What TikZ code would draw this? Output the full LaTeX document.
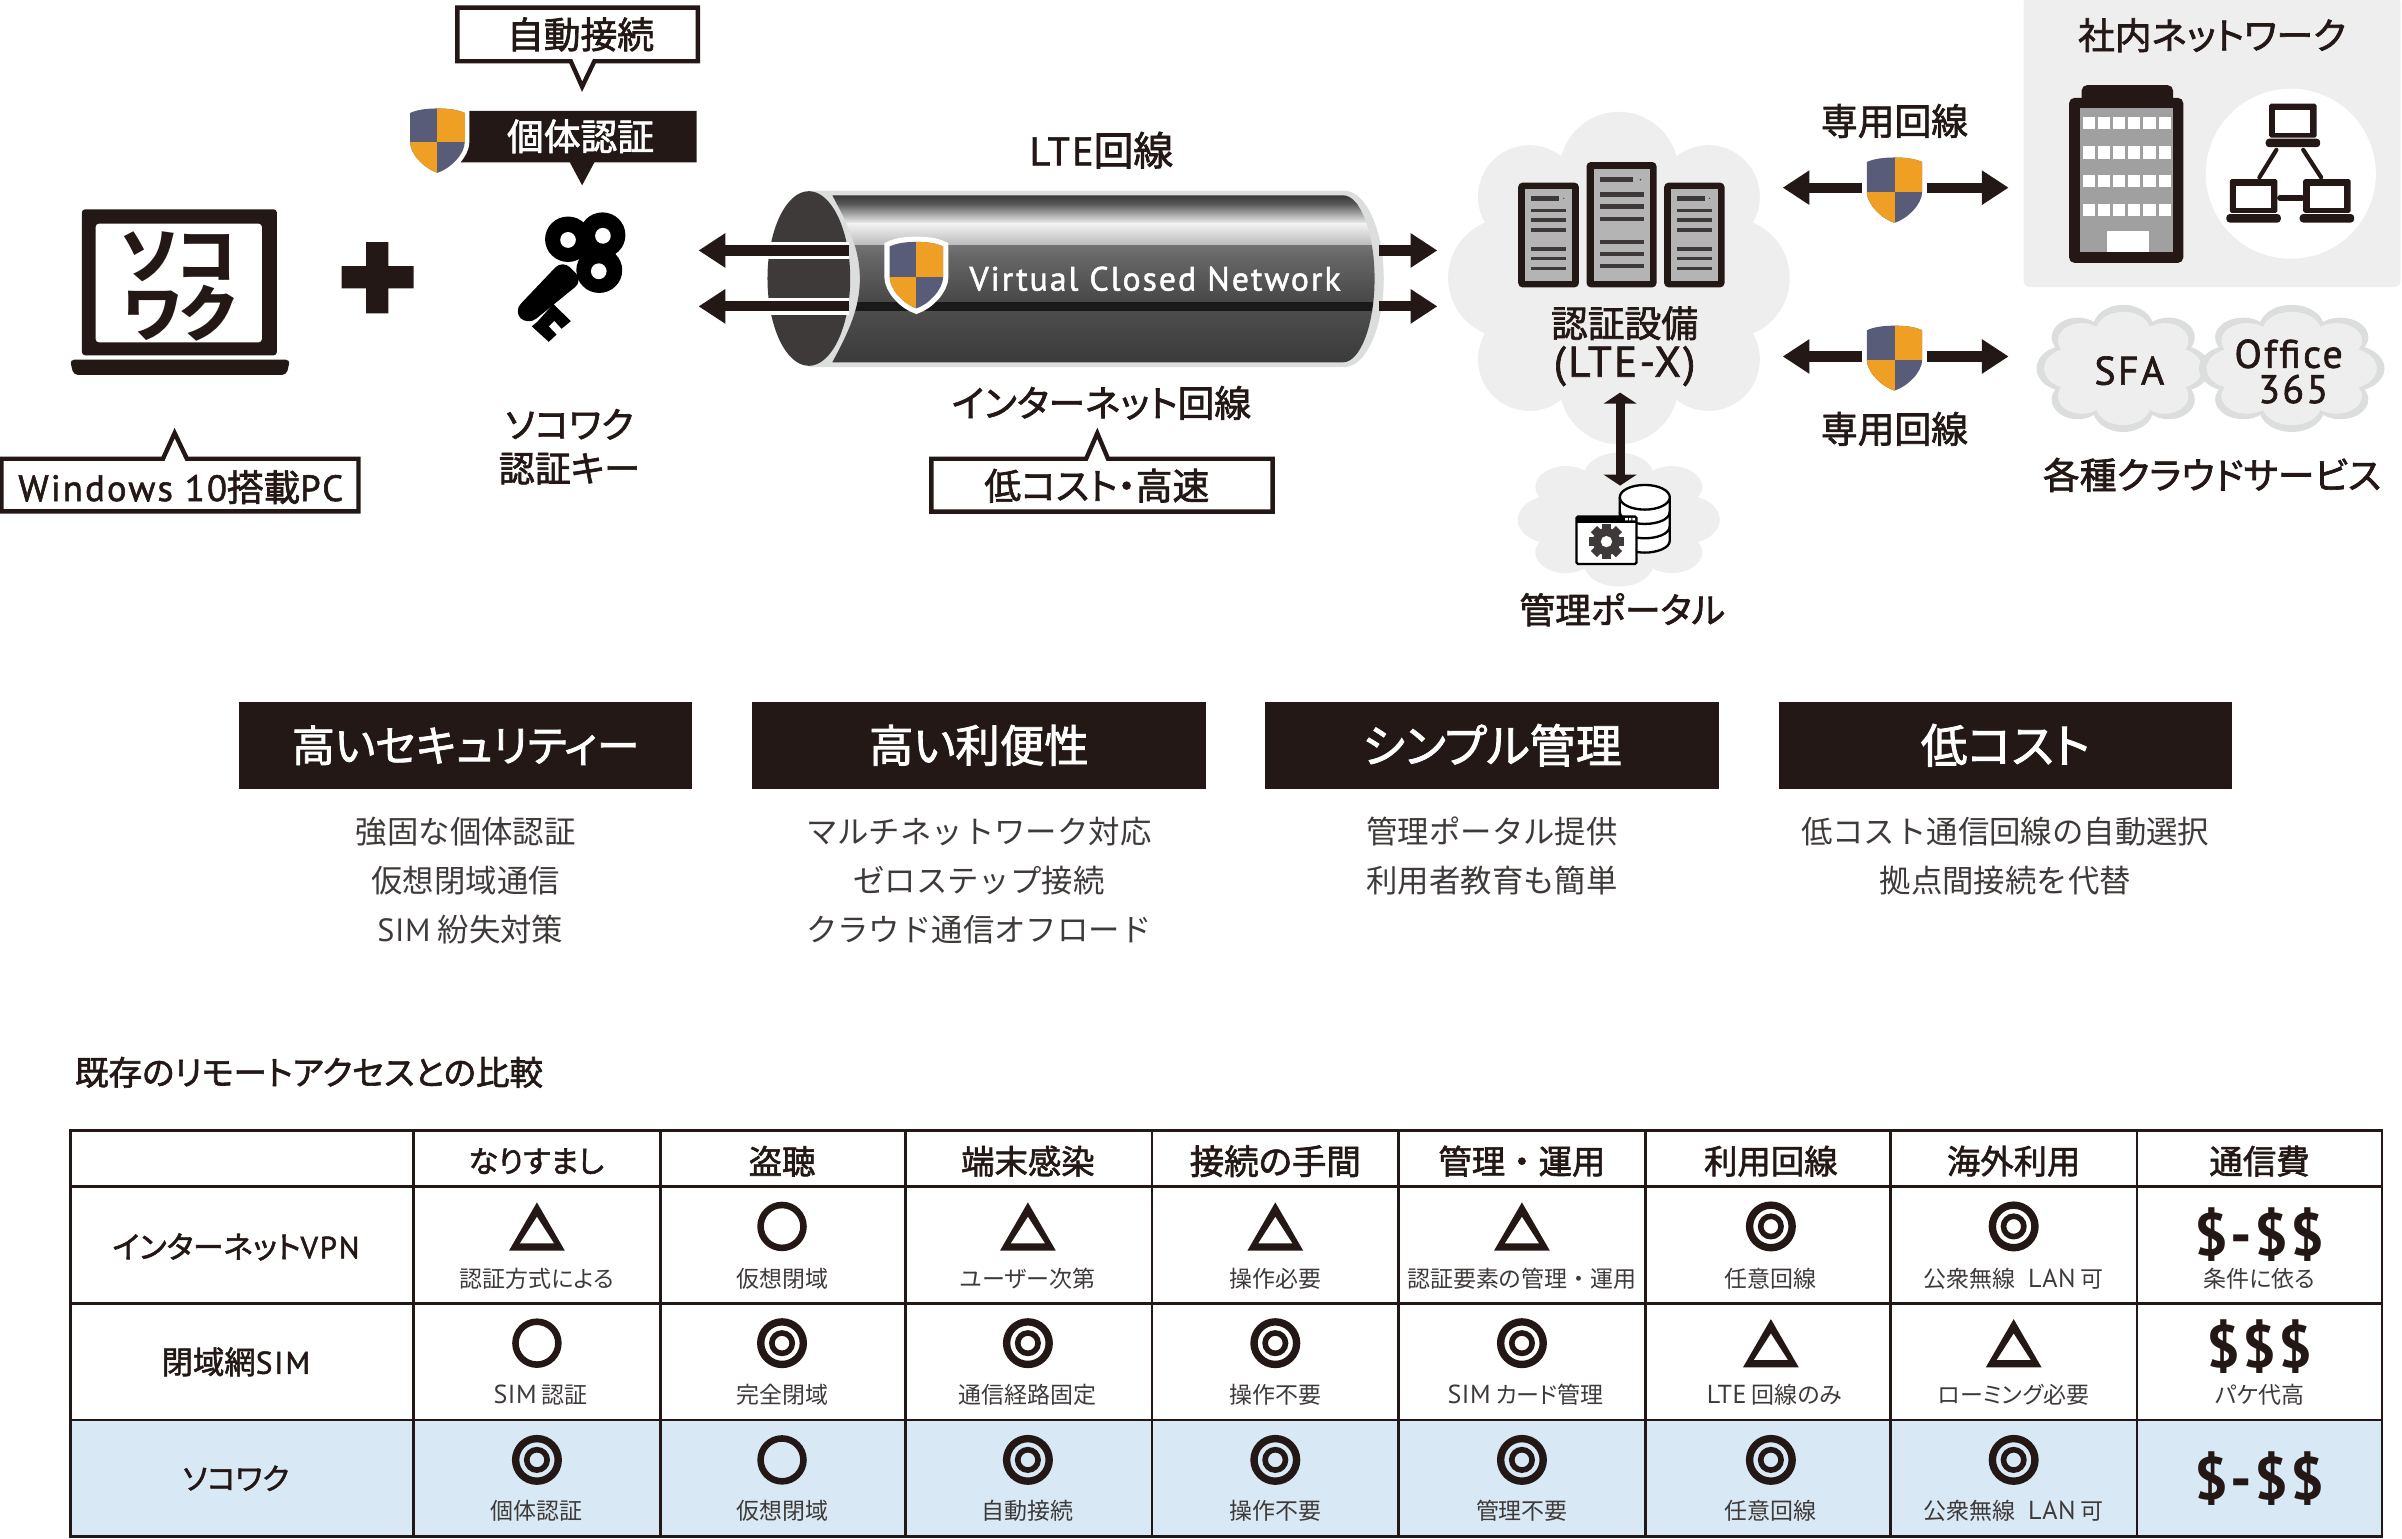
\documentclass[tikz,border=0pt]{standalone}
\usepackage{fontspec}
\usepackage{xcolor}
\usetikzlibrary{arrows.meta}
\setmainfont{Noto Sans CJK JP}
\newfontfamily\jpm{Noto Sans CJK JP}[RawFeature=+palt,FakeBold=1.8]
\newfontfamily\jpf{Noto Sans CJK JP}[FakeBold=1.8]
\newfontfamily\jpl{Noto Sans CJK JP}[RawFeature=+palt]
\newfontfamily\din{PT Sans}[LetterSpace=6,FakeBold=1.6]
\newfontfamily\dinl{PT Sans}[LetterSpace=2]
\newfontfamily\dinb{PT Sans}[LetterSpace=4]
\definecolor{ink}{HTML}{231815}
\definecolor{txt}{HTML}{3E3A39}
\definecolor{navy}{HTML}{585C78}
\definecolor{orange}{HTML}{EFA024}
\definecolor{pale}{HTML}{EEEEEE}
\definecolor{cborder}{HTML}{DCDDDD}
\definecolor{srv}{HTML}{B4B4B5}
\definecolor{bldg}{HTML}{A0A0A0}
\definecolor{rowblue}{HTML}{D8E9F5}
\newcommand\fs[1]{\fontsize{\fpeval{#1*0.4358}pt}{\fpeval{#1*0.4358*1.15}pt}\selectfont}
\def\shieldpath{(0,0) .. controls (-.4,0) and (-.75,.02) .. (-1,.07) -- (-1,.52) .. controls (-1,.72) and (-.45,.94) .. (0,1) .. controls (.45,.94) and (1,.72) .. (1,.52) -- (1,.07) .. controls (.75,.02) and (.4,0) .. (0,0) -- cycle}
\newcommand\shieldicon[5]{%
\begin{scope}[shift={({(#1+#2)/2},#3)},xscale=\fpeval{(#2-#1)/2},yscale=\fpeval{#4-#3}]
\draw[white,line width=#5] \shieldpath;
\begin{scope}
\clip \shieldpath;
\fill[navy] (-1.1,-.1) rectangle (1.1,1.1);
\fill[orange] (0,-.1) rectangle (1.1,.525);
\fill[orange] (-1.1,.525) rectangle (0,1.1);
\end{scope}
\end{scope}}
\newcommand\cloudfill[5]{%
\begin{scope}[shift={(#1,#2)},xscale=\fpeval{#3/515},yscale=\fpeval{#4/499}]
\fill[#5] (0,0) circle[radius=380] (0,-319) circle[radius=180] (-270,-244) circle[radius=155] (270,-244) circle[radius=155]
 (-335,0) circle[radius=180] (335,0) circle[radius=180] (-270,244) circle[radius=155] (270,244) circle[radius=155] (0,319) circle[radius=180];
\end{scope}}
\newcommand\smallpc[2]{%
\fill[ink,rounded corners=.5pt] (#1,#2) rectangle ++(31,22.1);
\fill[white] ({#1+4.1},{#2+4.2}) rectangle ++(22.8,14.7);
\fill[ink,rounded corners=1pt] ({#1-2.3},{#2+22.8}) rectangle ++(35.6,5.6);}
\newcommand\srvbox[9]{%
\fill[ink,rounded corners=1.2pt] (#1,#3) rectangle (#2,#4);
\fill[srv] (\fpeval{#1+21},\fpeval{#3+20}) rectangle (\fpeval{#2-21},\fpeval{#4-19});
\fill[txt] (\fpeval{#1+39},\fpeval{#3+#5-8}) rectangle (\fpeval{#1+39+#6},\fpeval{#3+#5+8});
\fill[txt] (\fpeval{#1+39+#6+(#2-#1-78-#6)/1.4},\fpeval{#3+#5}) circle[radius=#7];
\foreach \ly in {#8} \fill[txt] (\fpeval{#1+39},\fpeval{\ly-#9}) rectangle (\fpeval{#2-39},\fpeval{\ly+#9});}
\newcommand\mkO[2]{\draw[ink,line width=1.87pt] (#1,#2) circle[radius=14];}
\newcommand\mkW[2]{\draw[ink,line width=2.1pt] (#1,#2) circle[radius=13.9];\draw[ink,line width=1.6pt] (#1,#2) circle[radius=6.65];}
\newcommand\mkT[2]{\fill[ink,even odd rule] (\fpeval{#1-18.2},\fpeval{#2+15.8}) -- (\fpeval{#1+18.2},\fpeval{#2+15.8}) -- (#1,\fpeval{#2-15.7}) -- cycle
 (\fpeval{#1-11.2},\fpeval{#2+11}) -- (\fpeval{#1+11.2},\fpeval{#2+11}) -- (#1,\fpeval{#2-6.4}) -- cycle;}
\tikzset{
 lbl/.style={inner sep=0pt,outer sep=0pt,text=ink,align=center},
 fatarrow/.style={line width=2.9pt,draw=ink,-{Triangle[length=7.6pt,width=9.3pt,fill=ink]}},
 bubble/.style={draw=ink,line width=1.25pt,fill=white,miter limit=10},
 hdr/.style={fill=ink,text=white,inner sep=0pt,minimum width=129pt,minimum height=24.9pt},
 desc/.style={inner sep=0pt,text=txt,align=center,font=\fs{20.5}},
 hcell/.style={inner sep=0pt,text=ink,font=\jpf\fs{21.8}},
 capt/.style={inner sep=0pt,text=txt,font=\jpl\fs{15}},
 dollar/.style={inner sep=0pt,text=ink},
 gline/.style={draw=ink,line width=.72pt},
}
\begin{document}
\begin{tikzpicture}[x=0.015319cm,y=-0.015319cm]
\useasboundingbox (0,0) rectangle (1568,1004);
% ---- PC
\fill[ink,rounded corners=1pt] (53.4,136.6) rectangle (180.8,232);
\fill[white,rounded corners=1pt] (62.4,146) rectangle (171,223.5);
\fill[ink,rounded corners=1.2pt] (45.6,234.8) -- (189.4,234.8) -- (187,244.7) -- (48,244.7) -- cycle;
\node[lbl,font=\jpl\bfseries\fontsize{17.4pt}{14.8pt}\selectfont] (logoa) at (117,187) {ソコ\\ワク};
\fill[ink] (239,158) rectangle (253.6,204.5) (223,173.7) rectangle (270,188.3);
% ---- key
\begin{scope}[xscale=0.29976,yscale=0.22472]
\fill[black] (1237,695) ellipse[x radius=50,y radius=66] (1312,683) ellipse[x radius=50,y radius=66] (1305,785) ellipse[x radius=50,y radius=66];
\fill[black,rounded corners=3pt] (1225,755) -- (1270,815) -- (1150,945) -- (1118,905) -- cycle;
\fill[black] (1205,883) -- (1243,933) -- (1223,955) -- (1207,932) -- (1195,948) -- (1212,972) -- (1195,993) -- (1158,948) -- (1170,935) -- cycle;
\fill[white] (1237,697) ellipse[x radius=17,y radius=23] (1313,685) ellipse[x radius=17,y radius=23] (1304,788) ellipse[x radius=17,y radius=23];
\end{scope}
% ---- bubbles
\draw[bubble] (298.6,5) -- (455.6,5) -- (455.6,40) -- (388,40) -- (380,56.6) -- (372.6,40) -- (298.6,40) -- cycle;
\node[lbl,font=\jpm\fs{24}] (autoc) at (379,22.5) {自動接続};
\fill[ink] (300.7,72.4) -- (454.7,72.4) -- (454.7,106) -- (388,106) -- (380,121) -- (372,106) -- (300.7,106) -- cycle;
\node[lbl,font=\jpm\fs{24},text=white] (indiv) at (379,89) {個体認証};
\shieldicon{267.7}{303.4}{70.8}{112.8}{2.6pt}
\node[lbl,font=\jpm\fs{23.5}] (keya) at (371.7,277) {ソコワク};
\node[lbl,font=\jpm\fs{23.5}] (keyb) at (371.7,306) {認証キー};
\draw[bubble] (1,299.5) -- (106.4,299.5) -- (114,282.7) -- (122,299.5) -- (234,299.5) -- (234,333.8) -- (1,333.8) -- cycle;
\node[lbl,font=\fs{23.9}] (winpc) at (118,318) {{\din Windows 10}{\jpm 搭載}{\din PC}};
% ---- tube
\fill[cborder] (528,124.4) -- (877.3,124.4) .. controls (891.7,124.4) and (903.3,150.2) .. (903.3,182) .. controls (903.3,213.8) and (891.7,239.7) .. (877.3,239.7) -- (528,239.7) -- cycle;
\fill[txt] (528,181.8) ellipse[x radius=27,y radius=57];
\begin{scope}
\clip (543.3,127.5) -- (876.7,127.5) .. controls (888,127.5) and (897.3,152) .. (897.3,182) .. controls (897.3,212) and (888,236.5) .. (876.7,236.5) -- (543.3,236.5) .. controls (555,215) and (561.3,200) .. (561.3,182) .. controls (561.3,164) and (555,149) .. (543.3,127.5) -- cycle;
\shade[top color=black!80,bottom color=black!65] (530,127) rectangle (910,133.2);
\shade[top color=black!65,bottom color=black!5] (530,133) rectangle (910,146.2);
\shade[top color=black!5,bottom color=black!27] (530,146) rectangle (910,160);
\shade[top color=black!55,bottom color=black!60] (530,160) rectangle (910,167.7);
\shade[top color=black!60,bottom color=black!72] (530,167.5) rectangle (910,197);
\fill[black!90] (530,197) rectangle (910,203.5);
\shade[top color=black!70,bottom color=black!77] (530,203.5) rectangle (910,237);
\end{scope}
\coordinate (lse) at (495,163.5); \coordinate (lsf) at (495,200);
\coordinate (lsa) at (554,163.5); \coordinate (lta) at (456,163.5);
\coordinate (lsb) at (554,200); \coordinate (ltb) at (456,200);
\coordinate (rsa) at (900,163.5); \coordinate (rta) at (938.3,163.5);
\coordinate (rsb) at (900,200); \coordinate (rtb) at (938.3,200);
\draw[white,line width=4.8pt] (lse) -- (lsa);
\draw[white,line width=4.8pt] (lsf) -- (lsb);
\draw[fatarrow] (lsa) -- (lta);
\draw[fatarrow] (lsb) -- (ltb);
\draw[fatarrow] (rsa) -- (rta);
\draw[fatarrow] (rsb) -- (rtb);
\shieldicon{580.7}{615.7}{157.9}{201.3}{3pt}
\node[lbl,text=white,font=\din\fs{22}] (vcn) at (754,182) {Virtual Closed Network};
\node[lbl,font=\fs{26}] (lte) at (719,98) {{\din LTE}{\jpm 回線}};
\node[lbl,font=\jpm\fs{24}] (inet) at (719,263) {インターネット回線};
\draw[bubble] (608,299.5) -- (709,299.5) -- (716.3,282.8) -- (723.3,299.5) -- (830.7,299.5) -- (830.7,334) -- (608,334) -- cycle;
\node[lbl,font=\jpm\fs{24}] (lowc) at (716,317) {低コスト・高速};
% ---- auth cloud
\cloudfill{1056.8}{181.5}{111.5}{108.5}{pale}
\begin{scope}[shift={(933.4,65.3)},scale=0.21758]
\srvbox{265}{447}{248}{562}{47}{82}{2}{331,360,389,446,475,505}{5.5}
\srvbox{470}{680}{186}{562}{53}{100}{2.6}{283,319,356,425,462,498}{6.5}
\srvbox{703}{884}{248}{562}{47}{82}{2}{331,360,389,446,475,505}{5.5}
\end{scope}
\node[lbl,font=\jpm\fs{24}] (auth) at (1060.5,211) {認証設備};
\node[lbl,font=\din\fs{28}] (ltex) at (1060.5,239) {(LTE-X)};
% ---- portal
\cloudfill{1056.7}{339.2}{66}{43.7}{pale}
\coordinate (pa) at (1057.6,256.3); \coordinate (pb) at (1057.6,317);
\draw[line width=2.5pt,draw=ink,{Triangle[length=3.1pt,width=9.2pt,fill=ink]}-{Triangle[length=3.1pt,width=9.2pt,fill=ink]}] (pa) -- (pb);
\begin{scope}[shift={(966,241.5)},scale=0.21758]
\filldraw[fill=white,draw=black,line width=.66pt] (420,382) -- (420,512) .. controls (420,535) and (460,548) .. (495,548) .. controls (530,548) and (570,535) .. (570,512) -- (570,382);
\foreach \dy in {0,43} \draw[black,line width=.66pt] (420,\fpeval{425+\dy}) .. controls (420,\fpeval{450+\dy}) and (460,\fpeval{462+\dy}) .. (495,\fpeval{462+\dy}) .. controls (530,\fpeval{462+\dy}) and (570,\fpeval{450+\dy}) .. (570,\fpeval{425+\dy});
\filldraw[fill=white,draw=black,line width=.66pt] (495,382) ellipse[x radius=75,y radius=37];
\filldraw[fill=white,draw=black,line width=.66pt,rounded corners=.4pt] (290,440) rectangle (470,582);
\fill[black] (290,440) rectangle (470,458);
\fill[white] (436,444) rectangle (444,451) (447,444) rectangle (455,451) (458,444) rectangle (466,451);
\fill[txt] (380,515) circle[radius=41];
\foreach \a in {0,45,...,315} \fill[txt,rotate around={\a:(380,515)}] (367,462) rectangle (393,482);
\fill[white] (380,515) circle[radius=17];
\end{scope}
\node[lbl,font=\jpm\fs{23.3}] (portal) at (1059,398) {管理ポータル};
% ---- right side
\fill[pale,rounded corners=1.5pt] (1321,-2) rectangle (1567,187.4);
\node[lbl,font=\jpm\fs{24}] (corp) at (1444,23) {社内ネットワーク};
\fill[ink,rounded corners=1.5pt] (1358.9,55.6) rectangle (1418.5,70);
\fill[ink,rounded corners=1.5pt] (1350.7,63.9) rectangle (1425.2,171.6);
\fill[bldg] (1357.7,70.8) rectangle (1418.8,164.7);
\foreach \wy in {76.4,95.5,114.3,133.3} \foreach \wc in {0,...,5} \fill[white] (\fpeval{1359.5+\wc*9.93},\wy) rectangle ++(7.9,8);
\fill[white] (1375.2,150.9) rectangle (1402.7,164.7);
\fill[white] (1495.4,113.4) circle[radius=55.5];
\smallpc{1481.3}{67.7}
\smallpc{1455.6}{116.9}
\smallpc{1503.5}{116.9}
\coordinate (na) at (1486,97.8); \coordinate (nb) at (1474.9,115.8);
\coordinate (nc) at (1503.5,97.8); \coordinate (nd) at (1515.2,115.8);
\coordinate (ne) at (1488.3,129.2); \coordinate (nf) at (1502.6,129.2);
\draw[ink,line width=1.2pt,line cap=round] (na) -- (nb);
\draw[ink,line width=1.2pt,line cap=round] (nc) -- (nd);
\draw[ink,line width=1.6pt,line cap=round] (ne) -- (nf);
\coordinate (ua) at (1215.4,122.5); \coordinate (ub) at (1163.7,122.5);
\coordinate (uc) at (1257.8,122.5); \coordinate (ud) at (1311.2,122.5);
\coordinate (va) at (1215.4,232.7); \coordinate (vb) at (1163.7,232.7);
\coordinate (vc) at (1257.8,232.7); \coordinate (vd) at (1311.2,232.7);
\draw[fatarrow] (ua) -- (ub);
\draw[fatarrow] (uc) -- (ud);
\draw[fatarrow] (va) -- (vb);
\draw[fatarrow] (vc) -- (vd);
\shieldicon{1218.6}{1254.8}{102.8}{145.5}{0pt}
\shieldicon{1218.6}{1254.8}{212.6}{255}{0pt}
\node[lbl,font=\jpm\fs{24}] (lineu) at (1236.7,79) {専用回線};
\node[lbl,font=\jpm\fs{24}] (linel) at (1236.7,280) {専用回線};
\cloudfill{1386}{240.5}{56.6}{41.5}{cborder}
\cloudfill{1386}{240.5}{51.6}{37}{pale}
\cloudfill{1496}{240.5}{60.6}{41.5}{cborder}
\cloudfill{1496}{240.5}{55.6}{37}{pale}
\node[lbl,font=\din\fs{26}] (sfa) at (1390,242) {SFA};
\node[lbl,font=\din\fs{26}] (offa) at (1494,231) {Office};
\node[lbl,font=\din\fs{26}] (offb) at (1497,254) {365};
\node[lbl,font=\jpm\fs{24}] (cloudsvc) at (1444,310) {各種クラウドサービス};
% ---- features
\node[hdr,font=\jpm\fs{28}] (fa) at (304,486.5) {高いセキュリティー};
\node[hdr,font=\jpm\fs{29}] (fb) at (639,486.5) {高い利便性};
\node[hdr,font=\jpm\fs{30}] (fc) at (974,486.5) {シンプル管理};
\node[hdr,font=\jpm\fs{30.5}] (fd) at (1309,486.5) {低コスト};
\node[desc] (da1) at (304,543) {強固な個体認証};
\node[desc] (da2) at (304,575) {仮想閉域通信};
\node[desc] (da3) at (304,607) {{\dinl\fs{21} SIM} 紛失対策};
\node[desc] (db1) at (639,543) {マルチネットワーク対応};
\node[desc] (db2) at (639,575) {ゼロステップ接続};
\node[desc] (db3) at (639,607) {クラウド通信オフロード};
\node[desc] (dc1) at (974,543) {管理ポータル提供};
\node[desc] (dc2) at (974,575) {利用者教育も簡単};
\node[desc] (dd1) at (1309,543) {低コスト通信回線の自動選択};
\node[desc] (dd2) at (1309,575) {拠点間接続を代替};
% ---- table
\node[lbl,anchor=west,font=\jpm\fs{21.9}] (ttl) at (49,700) {既存のリモートアクセスとの比較};
\fill[rowblue] (46,927) rectangle (1555,1003);
\draw[gline] (46,738) rectangle (1555,1003);
\foreach \gy in {774.5,851,927} \draw[gline] (46,\gy) -- (1555,\gy);
\foreach \gx in {270,431,591,752,913,1074,1234,1395} \draw[gline] (\gx,738) -- (\gx,1003);
\foreach \hx/\hlab [count=\hi] in {350/{\jpm\fs{19.7}なりすまし},510.5/盗聴,671/端末感染,832.5/{\jpm\fs{22.5}接続の手間},993.5/管理・運用,1156/利用回線,1314.5/海外利用,1475/通信費}
 \node[hcell] (h\hi) at (\hx,758) {\hlab};
\node[hcell,font=\jpm\fs{20}] (ra) at (154,814) {インターネット{\din VPN}};
\node[hcell,font=\jpf\fs{20.5}] (rb) at (154,889) {閉域網{\din SIM}};
\node[hcell,font=\jpm\fs{19.5}] (rc) at (154,965) {ソコワク};
\foreach \cx/\sy/\ct [count=\ci] in {350.5/T/認証方式による,510.5/O/仮想閉域,671/T/ユーザー次第,832.5/T/操作必要,993.5/T/{\rmfamily 認証要素の管理・運用},1156/W/任意回線,1314.5/W/公衆無線 {\dinl\fs{17} LAN} 可}{
 \csname mk\sy\endcsname{\cx}{800.6}
 \node[capt] (ca\ci) at (\cx,835) {\ct};}
\foreach \cx/\sy/\ct [count=\ci] in {350.5/O/{\dinl\fs{17} SIM} 認証,510.5/W/完全閉域,671/W/通信経路固定,832.5/W/操作不要,993.5/W/{\dinl\fs{17} SIM} カード管理,1156/T/{\dinl\fs{17} LTE} 回線のみ,1314.5/T/ローミング必要}{
 \csname mk\sy\endcsname{\cx}{876.8}
 \node[capt] (cb\ci) at (\cx,910.5) {\ct};}
\foreach \cx/\sy/\ct [count=\ci] in {350.5/W/個体認証,510.5/O/仮想閉域,671/W/自動接続,832.5/W/操作不要,993.5/W/管理不要,1156/W/任意回線,1314.5/W/公衆無線 {\dinl\fs{17} LAN} 可}{
 \csname mk\sy\endcsname{\cx}{953}
 \node[capt] (cc\ci) at (\cx,986.5) {\ct};}
\node[dollar,font=\dinb\bfseries\fs{39}] (da) at (1475,806) {\$-\$\$};
\node[capt] (dcapa) at (1475,835) {条件に依る};
\node[dollar,font=\dinb\bfseries\fs{39}] (db) at (1475,879) {\$\$\$};
\node[capt] (dcapb) at (1475,910.5) {パケ代高};
\node[dollar,font=\dinb\bfseries\fs{39}] (dcc) at (1475,965) {\$-\$\$};
\end{tikzpicture}
\end{document}
